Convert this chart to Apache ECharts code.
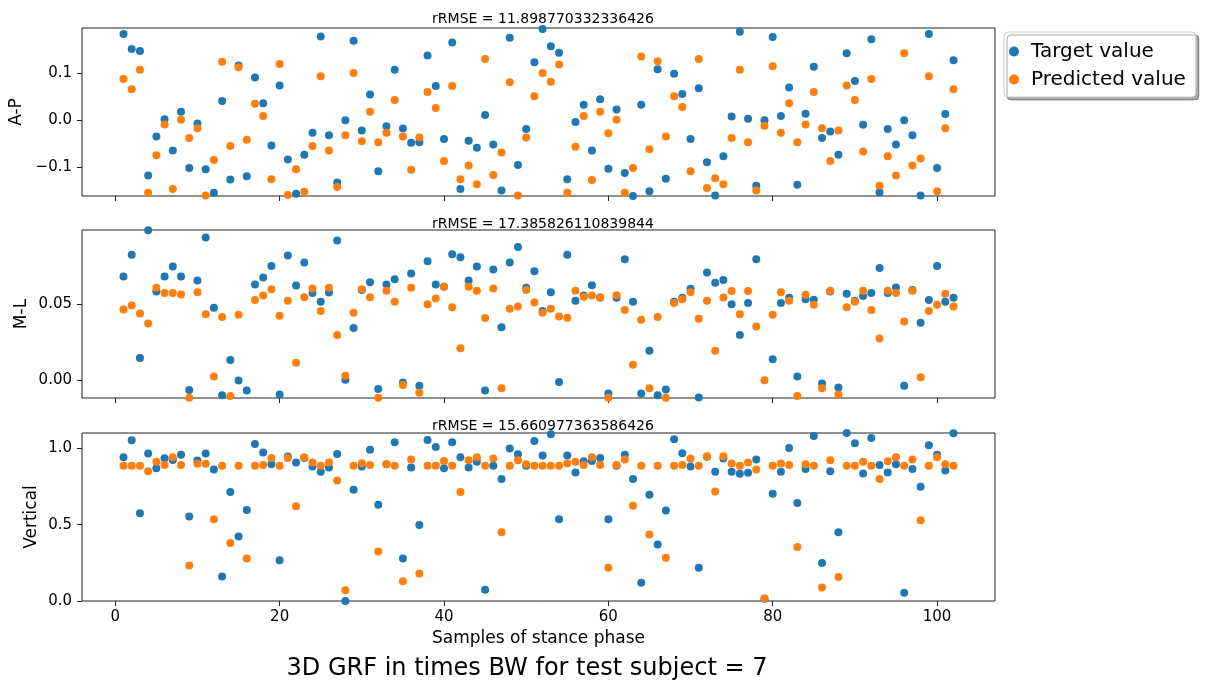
<!DOCTYPE html>
<html>
<head>
<meta charset="utf-8">
<script src="https://cdn.jsdelivr.net/npm/echarts@6/dist/echarts.min.js"></script>
<style>
  html, body { margin: 0; padding: 0; background: #fff; }
  #chart { width: 1206px; height: 684px; }
</style>
</head>
<body>
<div id="chart"></div>
<script>
// sample index on x (1..102)
const samples = Array.from({ length: 102 }, (_, i) => i + 1)
const xTicks = [0, 20, 40, 60, 80, 100]

const panelTitles = [
  'rRMSE = 11.898770332336426',
  'rRMSE = 17.385826110839844',
  'rRMSE = 15.660977363586426',
]
const panelNames = ['A-P', 'M-L', 'Vertical']
const yTicksAP = [-0.1, 0.0, 0.1]
const yTicksML = [0.0, 0.05]
const yTicksV = [0.0, 0.5, 1.0]

const apTarget = [
  0.184, 0.152, 0.148, -0.118, -0.035, 0.002, -0.065, 0.018, -0.102, -0.007,
  -0.105, -0.155, 0.041, -0.127, 0.117, -0.120, 0.091, 0.036, -0.054, 0.074,
  -0.084, -0.157, -0.074, -0.027, 0.179, -0.032, -0.133, 0.000, 0.170, -0.022,
  0.055, -0.109, -0.013, 0.108, -0.018, -0.048, -0.047, 0.138, 0.073, -0.040,
  0.166, -0.147, -0.044, -0.059, 0.011, -0.052, -0.150, 0.176, -0.096, -0.019,
  0.124, 0.195, 0.158, 0.144, -0.126, -0.004, 0.033, -0.065, 0.045, -0.104,
  0.023, -0.113, -0.162, 0.033, -0.152, 0.109, -0.125, 0.099, 0.056, -0.040,
  0.068, -0.090, -0.161, -0.077, 0.008, 0.189, 0.003, -0.140, 0.000, 0.178,
  0.009, 0.070, -0.138, 0.014, 0.114, -0.038, -0.024, -0.074, 0.143, 0.084,
  -0.010, 0.173, -0.154, -0.019, -0.052, 0.000, -0.032, -0.161, 0.184, -0.102,
  0.013, 0.128,
]
const apPredicted = [
  0.088, 0.066, 0.108, -0.155, -0.075, -0.009, -0.147, 0.001, -0.038, -0.017,
  -0.161, -0.085, 0.125, -0.055, 0.113, -0.042, 0.035, 0.009, -0.126, 0.120,
  -0.160, -0.105, -0.153, -0.055, 0.094, -0.065, -0.143, -0.032, 0.101, -0.045,
  0.018, -0.047, -0.027, 0.043, -0.035, -0.106, -0.037, 0.060, 0.026, -0.087,
  0.073, -0.126, -0.097, -0.137, 0.131, -0.117, -0.069, 0.081, -0.161, -0.037,
  0.051, 0.101, 0.082, 0.119, -0.155, -0.057, 0.009, -0.128, 0.018, -0.028,
  0.001, -0.155, -0.102, 0.136, -0.062, 0.126, -0.035, 0.051, 0.028, -0.109,
  0.131, -0.145, -0.124, -0.137, -0.038, 0.108, -0.047, -0.150, -0.012, 0.115,
  -0.027, 0.036, -0.047, -0.009, 0.060, -0.017, -0.087, -0.022, 0.074, 0.043,
  -0.067, 0.088, -0.140, -0.077, -0.118, 0.143, -0.097, -0.082, 0.094, -0.152,
  -0.017, 0.066,
]

const mlTarget = [
  0.0684, 0.0827, 0.0147, 0.0990, 0.0586, 0.0684, 0.0750, 0.0684, -0.0064, 0.0658,
  0.0941, 0.0478, -0.0099, 0.0134, -0.0002, -0.0068, 0.0632, 0.0678, 0.0754, -0.0094,
  0.0822, 0.0625, 0.0776, 0.0575, 0.0518, 0.0579, 0.0921, 0.0004, 0.0344, 0.0596,
  0.0647, -0.0057, 0.0632, 0.0667, -0.0015, 0.0704, -0.0037, 0.0785, 0.0632, 0.0616,
  0.0831, 0.0811, 0.0658, 0.0750, -0.0068, 0.0730, 0.0349, 0.0776, 0.0879, 0.0610,
  0.0719, 0.0456, 0.0581, -0.0011, 0.0827, 0.0524, 0.0559, 0.0627, 0.0546, -0.0088,
  0.0544, 0.0798, 0.0518, -0.0088, 0.0195, -0.0099, -0.0061, 0.0518, 0.0544, 0.0603,
  -0.0114, 0.0711, 0.0643, 0.0662, 0.0502, 0.0298, 0.0509, 0.0798, -0.0150, 0.0138,
  0.0509, 0.0544, 0.0024, 0.0535, 0.0531, -0.0022, 0.0586, -0.0048, 0.0570, 0.0524,
  0.0555, 0.0575, 0.0741, 0.0575, 0.0612, -0.0037, 0.0596, 0.0379, 0.0529, 0.0754,
  0.0518, 0.0544,
]
const mlPredicted = [
  0.0467, 0.0493, 0.0441, 0.0375, 0.0610, 0.0575, 0.0575, 0.0566, -0.0115, 0.0581,
  0.0436, 0.0024, 0.0417, -0.0103, 0.0432, -0.0150, 0.0529, 0.0559, 0.0601, 0.0425,
  0.0524, 0.0116, 0.0548, 0.0605, 0.0456, 0.0610, 0.0298, 0.0029, 0.0445, 0.0601,
  0.0548, -0.0115, 0.0590, 0.0518, -0.0031, 0.0610, -0.0083, 0.0502, 0.0539, 0.0616,
  0.0482, 0.0211, 0.0616, 0.0590, 0.0410, 0.0605, -0.0053, 0.0471, 0.0487, 0.0596,
  0.0513, 0.0445, 0.0471, 0.0421, 0.0412, 0.0590, 0.0550, 0.0559, 0.0546, -0.0115,
  0.0561, 0.0463, 0.0103, 0.0399, -0.0053, 0.0417, -0.0115, 0.0509, 0.0535, 0.0581,
  0.0406, 0.0524, 0.0195, 0.0546, 0.0588, 0.0436, 0.0588, 0.0355, 0.0000, 0.0432,
  0.0581, 0.0524, -0.0103, 0.0564, 0.0498, -0.0053, 0.0590, -0.0094, 0.0482, 0.0518,
  0.0590, 0.0463, 0.0276, 0.0590, 0.0575, 0.0388, 0.0590, 0.0020, 0.0456, 0.0498,
  0.0570, 0.0487,
]

const vTarget = [
  0.941, 1.052, 0.574, 0.965, 0.870, 0.935, 0.924, 0.957, 0.554, 0.920,
  0.965, 0.861, 0.161, 0.713, 0.422, 0.596, 1.028, 0.972, 0.896, 0.267,
  0.946, 0.907, 0.937, 0.880, 0.846, 0.874, 0.963, 0.000, 0.728, 0.880,
  0.991, 0.630, 0.895, 1.039, 0.278, 0.874, 0.498, 1.054, 1.009, 0.870,
  1.039, 0.941, 0.874, 0.911, 0.074, 0.885, 0.798, 0.998, 0.961, 0.885,
  1.048, 0.952, 1.091, 0.535, 0.952, 0.841, 0.915, 0.917, 0.937, 0.535,
  0.885, 0.957, 0.798, 0.120, 0.696, 0.370, 0.593, 1.059, 0.967, 0.880,
  0.217, 0.945, 0.846, 0.933, 0.846, 0.833, 0.839, 0.926, 0.015, 0.702,
  0.846, 1.002, 0.641, 0.865, 1.080, 0.248, 0.850, 0.450, 1.100, 1.033,
  0.835, 1.067, 0.891, 0.841, 0.896, 0.054, 0.865, 0.748, 1.020, 0.957,
  0.854, 1.098,
]
const vPredicted = [
  0.885, 0.885, 0.885, 0.850, 0.911, 0.891, 0.941, 0.891, 0.233, 0.898,
  0.898, 0.535, 0.885, 0.380, 0.885, 0.278, 0.885, 0.891, 0.937, 0.885,
  0.937, 0.620, 0.941, 0.907, 0.885, 0.907, 0.789, 0.070, 0.885, 0.902,
  0.891, 0.324, 0.896, 0.885, 0.130, 0.926, 0.180, 0.885, 0.885, 0.917,
  0.885, 0.713, 0.922, 0.941, 0.885, 0.933, 0.450, 0.885, 0.922, 0.896,
  0.885, 0.885, 0.885, 0.885, 0.900, 0.911, 0.891, 0.941, 0.891, 0.217,
  0.891, 0.926, 0.624, 0.885, 0.435, 0.885, 0.283, 0.885, 0.891, 0.933,
  0.885, 0.948, 0.717, 0.948, 0.900, 0.885, 0.907, 0.861, 0.017, 0.885,
  0.900, 0.891, 0.354, 0.896, 0.885, 0.089, 0.922, 0.157, 0.885, 0.885,
  0.911, 0.885, 0.798, 0.915, 0.941, 0.885, 0.926, 0.528, 0.885, 0.941,
  0.896, 0.885,
]

const BLUE = '#1f77b4'
const ORANGE = '#ff7f0e'
const FONT = '"DejaVu Sans", sans-serif'

const chart = echarts.init(document.getElementById('chart'))

// matplotlib style minus sign
const fmt = (digits) => (v) => (v < 0 ? '\u2212' : '') + Math.abs(v).toFixed(digits)

const panels = [
  { top: 28, ticks: yTicksAP, min: -0.162, max: 0.197, digits: 1, gap: 57, target: apTarget, predicted: apPredicted },
  { top: 230, ticks: yTicksML, min: -0.0117, max: 0.0991, digits: 2, gap: 52, target: mlTarget, predicted: mlPredicted },
  { top: 433, ticks: yTicksV, min: 0, max: 1.1, digits: 1, gap: 42, target: vTarget, predicted: vPredicted },
]

const tickStyle = { show: true, length: 5, lineStyle: { color: '#222', width: 1 } }

const option = {
  animation: false,
  textStyle: { fontFamily: FONT, color: '#000' },
  title: [
    ...panelTitles.map((text, i) => ({
      text,
      left: 538,
      top: [7, 212, 414][i],
      textAlign: 'center',
      textStyle: { fontFamily: FONT, fontSize: 14, fontWeight: 'normal', color: '#000' },
    })),
    {
      text: '3D GRF in times BW for test subject = 7',
      left: 522,
      top: 652,
      textAlign: 'center',
      textStyle: { fontFamily: FONT, fontSize: 24, fontWeight: 'normal', color: '#000' },
    },
  ],
  legend: {
    data: ['Target value', 'Predicted value'],
    orient: 'vertical',
    left: 1004,
    top: 32,
    icon: 'circle',
    itemWidth: 10,
    itemHeight: 10,
    itemGap: 5,
    padding: [8, 10, 6, 5],
    backgroundColor: '#fff',
    borderColor: '#ccc',
    borderWidth: 1,
    borderRadius: 4,
    shadowColor: 'rgba(0,0,0,0.35)',
    shadowOffsetX: 3,
    shadowOffsetY: 3,
    shadowBlur: 0,
    textStyle: { fontFamily: FONT, fontSize: 20, color: '#000', lineHeight: 23, padding: [0, 0, 0, 7] },
  },
  grid: panels.map((p) => ({
    left: 82,
    right: 211,
    top: p.top,
    height: 168,
    show: true,
    borderColor: '#222',
    borderWidth: 1,
    backgroundColor: '#fff',
  })),
  xAxis: panels.map((p, i) => ({
    type: 'value',
    gridIndex: i,
    min: -4.05,
    max: 107.05,
    splitLine: { show: false },
    axisLine: { show: false, onZero: false },
    axisTick: { ...tickStyle, customValues: xTicks },
    axisLabel: {
      show: i === 2,
      customValues: xTicks,
      fontSize: 15,
      color: '#000',
      margin: 9,
    },
    name: i === 2 ? 'Samples of stance phase' : '',
    nameLocation: 'middle',
    nameGap: 29,
    nameMoveOverlap: false,
    nameTextStyle: { fontFamily: FONT, fontSize: 17, color: '#000' },
  })),
  yAxis: panels.map((p, i) => ({
    type: 'value',
    gridIndex: i,
    min: p.min,
    max: p.max,
    splitLine: { show: false },
    axisLine: { show: false, onZero: false },
    axisTick: { ...tickStyle, customValues: p.ticks },
    axisLabel: {
      customValues: p.ticks,
      formatter: fmt(p.digits),
      fontSize: 15,
      color: '#000',
      margin: 10,
    },
    name: panelNames[i],
    nameLocation: 'middle',
    nameGap: p.gap,
    nameMoveOverlap: false,
    nameTextStyle: { fontFamily: FONT, fontSize: 17, color: '#000' },
  })),
  series: panels.flatMap((p, i) => [
    {
      name: 'Target value',
      type: 'scatter',
      xAxisIndex: i,
      yAxisIndex: i,
      symbolSize: 8,
      itemStyle: { color: BLUE, opacity: 1 },
      data: samples.map((s, k) => [s, p.target[k]]),
    },
    {
      name: 'Predicted value',
      type: 'scatter',
      xAxisIndex: i,
      yAxisIndex: i,
      symbolSize: 8,
      itemStyle: { color: ORANGE, opacity: 1 },
      data: samples.map((s, k) => [s, p.predicted[k]]),
    },
  ]),
}

chart.setOption(option)
</script>
</body>
</html>
